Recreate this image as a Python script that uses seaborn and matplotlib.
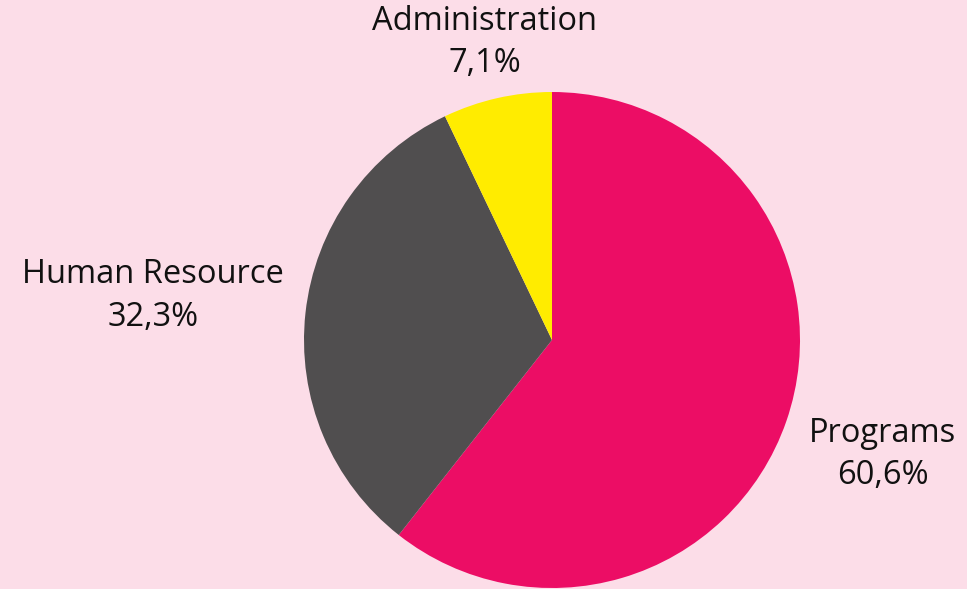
import matplotlib
matplotlib.use('Agg')
import matplotlib.pyplot as plt
import seaborn as sns
import numpy as np

# budget breakdown
categories = ['Programs', 'Human Resource', 'Administration']
shares = [60.6, 32.3, 7.1]
colors = ['#EC0D65', '#504E4F', '#FFEC00']
label_dist = [1.41, 1.62, 1.23]

sns.set_theme(style='white')
plt.rcParams['font.family'] = ['Open Sans', 'DejaVu Sans']

bg = '#FCDDE8'
fig = plt.figure(figsize=(9.67, 5.89), dpi=100, facecolor=bg)
ax = fig.add_axes([304 / 967, 1 / 589, 496 / 967, 496 / 589])
ax.set_facecolor(bg)

wedges, _ = ax.pie(shares, colors=colors, startangle=90, counterclock=False,
                   radius=1, wedgeprops=dict(linewidth=0))
ax.set_xlim(-1, 1)
ax.set_ylim(-1, 1)
ax.axis('off')

for w, name, val, d in zip(wedges, categories, shares, label_dist):
    ang = np.deg2rad((w.theta1 + w.theta2) / 2)
    x, y = d * np.cos(ang), d * np.sin(ang)
    txt = f"{name}\n{val:.1f}%".replace('.', ',')
    ax.text(x, y, txt, ha='center', va='center', fontsize=23.5,
            color='#111111', linespacing=1.38, clip_on=False)

plt.savefig('out.png', dpi=100, facecolor=bg)
